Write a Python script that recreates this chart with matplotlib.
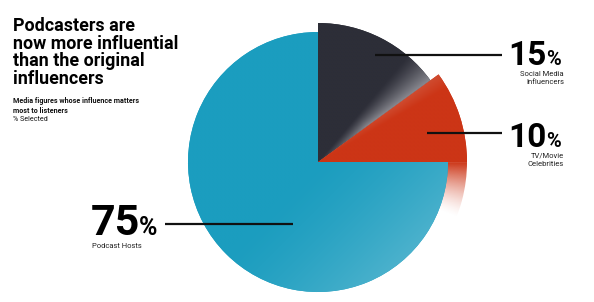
import numpy as np
import matplotlib
matplotlib.use("Agg")
import matplotlib.pyplot as plt
from matplotlib.patches import Wedge
from matplotlib.colors import to_rgb

# ---- data ----
categories = ["Social Media\nInfluencers", "TV/Movie\nCelebrities", "Podcast Hosts"]
values = [15, 10, 75]
colors = ["#2d2e38", "#cc3516", "#1b9dbf"]
title = "Podcasters are\nnow more influential\nthan the original\ninfluencers"
subtitle = "Media figures whose influence matters\nmost to listeners"
unit_note = "% Selected"

W, H = 594, 302
fig = plt.figure(figsize=(W / 100, H / 100), dpi=100)
ax = fig.add_axes([0, 0, 1, 1])
ax.set_xlim(0, W)
ax.set_ylim(0, H)
ax.set_aspect("equal")
ax.axis("off")

def Y(y):
    return H - y

cx, cy = 318, Y(162)
R = 130
wedges, _ = ax.pie(values, colors=colors, startangle=90, counterclock=False,
                   radius=R, center=(cx, cy), frame=True,
                   wedgeprops=dict(linewidth=0, zorder=2))
ax.set_xlim(0, W)
ax.set_ylim(0, H)
ax.axis("off")
radii = [139, 149, 130]
for w, r in zip(wedges, radii):
    w.set_radius(r)

# pixel grid for gradients
ext = (cx - 160, cx + 160, cy - 160, cy + 160)
n = 400
xs = np.linspace(ext[0], ext[1], n)
ys = np.linspace(ext[2], ext[3], n)
XX, YY = np.meshgrid(xs, ys)
dx, dy = XX - cx, YY - cy
rr = np.hypot(dx, dy)
th = np.degrees(np.arctan2(dy, dx))

def blend(c1, c2, t):
    c1, c2 = np.array(to_rgb(c1)), np.array(to_rgb(c2))
    return c1[None, None, :] * (1 - t[..., None]) + c2[None, None, :] * t[..., None]

# blue: lighter toward bottom-right
proj = (dx - dy) / np.sqrt(2) / R
tb = np.clip(proj, 0, 1) ** 1.4 * 0.5
img_b = blend(colors[2], "#7cc6da", tb)
im = ax.imshow(img_b, extent=ext, origin="lower", zorder=3, interpolation="bilinear")
im.set_clip_path(wedges[2])

# dark: light grey band near its clockwise edge
td = np.clip((50 - th) / 14, 0, 1) ** 1.3 * 0.7 * np.clip(rr / 60, 0, 1)
img_d = blend(colors[0], "#b0b0b6", td)
im = ax.imshow(img_d, extent=ext, origin="lower", zorder=3, interpolation="bilinear")
im.set_clip_path(wedges[0])

# red: softened near the dark edge
tr = np.clip((th - 30) / 8, 0, 1) * 0.35 * np.clip(rr / 100, 0, 1)
img_r = blend(colors[1], "#d98a78", tr)
im = ax.imshow(img_r, extent=ext, origin="lower", zorder=3, interpolation="bilinear")
im.set_clip_path(wedges[1])

# red fade spilling below the slice
alpha = np.clip(1 + th / 22, 0, 1) ** 1.5 * (th < 0)
rgba = np.zeros((n, n, 4))
rgba[..., :3] = to_rgb(colors[1])
rgba[..., 3] = alpha
fade = Wedge((cx, cy), radii[1], -30, 0, linewidth=0, facecolor="none")
ax.add_patch(fade)
im = ax.imshow(rgba, extent=ext, origin="lower", zorder=1, interpolation="bilinear")
im.set_clip_path(fade)
ax.set_xlim(0, W)
ax.set_ylim(0, H)

# ---- text ----
fam = ["Roboto", "DejaVu Sans"]
ax.text(13, Y(17), title, ha="left", va="top", fontsize=12.9, fontweight="bold",
        family=fam, linespacing=0.98, color="#000000")
ax.text(13, Y(97), subtitle, ha="left", va="top", fontsize=5.1, fontweight="bold",
        family=fam, linespacing=1.3, color="#111111")
ax.text(13, Y(116), unit_note, ha="left", va="top", fontsize=5.1,
        family=fam, color="#111111")

specs = [
    dict(nx=547, ny=65, fs=24, pfs=14.5, lx=564, lha="right", ly=71,
         line=((375, 55), (502, 55))),
    dict(nx=547, ny=147, fs=24, pfs=14.5, lx=564, lha="right", ly=153,
         line=((427, 133), (502, 133))),
    dict(nx=140, ny=235, fs=31, pfs=18, lx=92, lha="left", ly=243,
         line=((165, 224), (293, 224))),
]
for v, cat, s in zip(values, categories, specs):
    ax.text(s["nx"], Y(s["ny"]), f"{v}", ha="right", va="baseline", fontsize=s["fs"],
            fontweight="bold", family=fam, color="#000000", zorder=6)
    ax.text(s["nx"] - 1, Y(s["ny"]), "%", ha="left", va="baseline", fontsize=s["pfs"],
            fontweight="bold", family=fam, color="#000000", zorder=6)
    ax.text(s["lx"], Y(s["ly"]), cat, ha=s["lha"], va="top", fontsize=5.5,
            family=fam, linespacing=1.3, color="#222222", zorder=6)
    (x0, y0), (x1, y1) = s["line"]
    ax.plot([x0, x1], [Y(y0), Y(y1)], color="#111111", lw=1.6, zorder=5,
            solid_capstyle="butt")

fig.savefig("out.png", dpi=100, facecolor="white")
